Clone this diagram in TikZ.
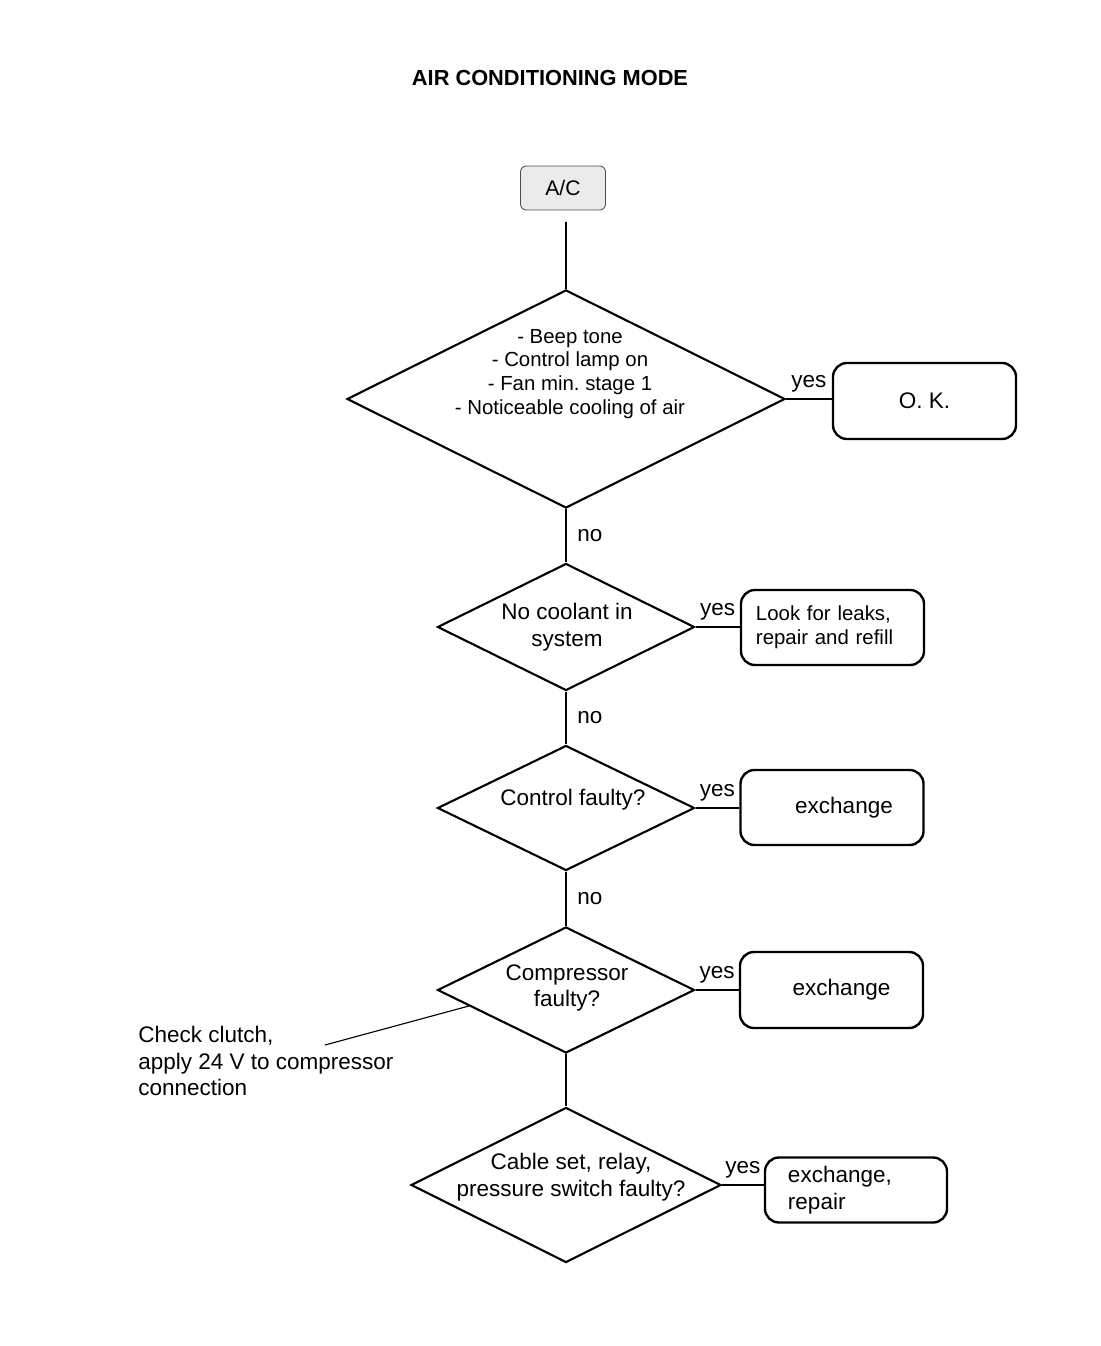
\documentclass[tikz,border=0pt]{standalone}
\usepackage{fontspec}
\setmainfont{Liberation Sans}
\usetikzlibrary{shapes.geometric,calc}
\frenchspacing

\begin{document}
\begin{tikzpicture}[x=0.025cm, y=-0.025cm,
    lbl/.style={font=\fontsize{16}{19}\selectfont},
    startbox/.style={draw=black!70, fill=black!8, rounded corners=0.15cm, line width=0.6pt,
      minimum width=2.125cm, minimum height=1.1cm, font=\fontsize{15}{18}\selectfont},
    decision/.style={diamond, draw, line width=1.5pt, inner sep=0pt},
    action/.style={draw, rounded corners=0.35cm, line width=1.7pt,
      minimum width=4.575cm, minimum height=1.9cm, lbl},
    flow/.style={line width=1.4pt}]
  \useasboundingbox (0,0) rectangle (1100,1346);

  % Title
  \node[font=\bfseries\fontsize{15.5}{18}\selectfont] (title) at (550,78) {AIR CONDITIONING MODE};

  % Start
  \node[startbox] (ac) at (563,188) {A/C};

  % Decisions
  \node[decision, minimum width=10.95cm, minimum height=5.45cm] (d1) at (566,399) {};
  \node[decision, minimum width=6.425cm, minimum height=3.175cm] (d2) at (566,627) {};
  \node[decision, minimum width=6.425cm, minimum height=3.125cm] (d3) at (566,808) {};
  \node[decision, minimum width=6.425cm, minimum height=3.15cm] (d4) at (566,990) {};
  \node[decision, minimum width=7.75cm, minimum height=3.875cm] (d5) at (566,1185) {};

  % Decision texts
  \node[align=center, font=\fontsize{14.5}{17}\selectfont] (t1) at (570,374)
    {- Beep tone\\- Control lamp on\\- Fan min. stage 1\\- Noticeable cooling of air};
  \node[align=center, lbl] (t2) at (567,627) {No coolant in\\system};
  \node[align=center, lbl] (t3) at (573,800) {Control faulty?};
  \node[align=center, lbl] (t4) at (567,988) {Compressor\\faulty?};
  \node[align=center, lbl] (t5) at (571,1177) {Cable set, relay,\\pressure switch faulty?};

  % Actions
  \node[action] (ok) at (924.5,401) {O. K.};
  \node[action, minimum height=1.875cm, text width=3.825cm, align=left,
    font=\fontsize{14.5}{17}\selectfont] (leak) at (832.5,627.5) {Look for leaks,\\repair and refill};
  \node[action, minimum height=1.875cm] (ex1) at (832,807.5) {\hspace*{0.6cm}exchange};
  \node[action] (ex2) at (831.5,990) {\hspace*{0.5cm}exchange};
  \node[action, minimum width=4.55cm, minimum height=1.625cm, text width=3.4cm, align=left]
    (ex3) at (856,1190) {exchange,\\repair};

  % No branches
  \draw[line width=1pt, shorten <=0.3cm] (ac.south -| d1.north) -- (d1.north);
  \draw[flow] (d1.south) -- node[right, lbl, xshift=4pt] {no} (d2.north);
  \draw[flow] (d2.south) -- node[right, lbl, xshift=4pt] {no} (d3.north);
  \draw[flow] (d3.south) -- node[right, lbl, xshift=4pt] {no} (d4.north);
  \draw[line width=1pt] (d4.south) -- (d5.north);

  % Yes branches
  \draw[flow] (d1.east) -- node[above=1pt, lbl] {yes} (d1.east -| ok.west);
  \draw[flow] (d2.east) -- node[above=1pt, lbl] {yes} (d2.east -| leak.west);
  \draw[flow] (d3.east) -- node[above=1pt, lbl] {yes} (d3.east -| ex1.west);
  \draw[flow] (d4.east) -- node[above=1pt, lbl] {yes} (d4.east -| ex2.west);
  \draw[flow] (d5.east) -- node[above=1pt, lbl] {yes} (d5.east -| ex3.west);

  % Note on compressor
  \node[lbl, align=left, anchor=west, inner sep=0pt] (note) at (138,1061)
    {Check clutch,\\apply 24 V to compressor\\connection};
  \coordinate (notetip) at (325,1045);
  \draw[line width=0.8pt] (notetip) -- ($(d4.west)!0.25!(d4.south)$);

\end{tikzpicture}
\end{document}
